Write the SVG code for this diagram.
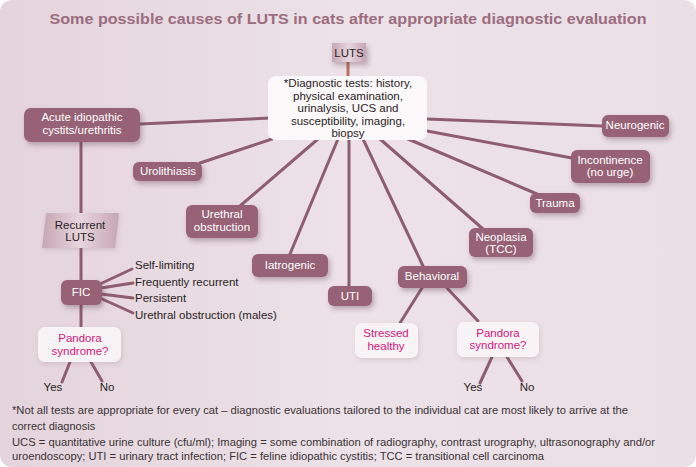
<svg xmlns="http://www.w3.org/2000/svg" width="696" height="467" viewBox="0 0 696 467">
<defs>
<linearGradient id="bg" x1="0" y1="0" x2="1" y2="0">
<stop offset="0" stop-color="#e4d4db"/>
<stop offset="0.5" stop-color="#ece2e7"/>
<stop offset="1" stop-color="#eadfe4"/>
</linearGradient>
<linearGradient id="light" x1="0" y1="0" x2="1" y2="0">
<stop offset="0" stop-color="#c7a6b4"/>
<stop offset="0.5" stop-color="#e6d6dd"/>
<stop offset="1" stop-color="#c7a6b4"/>
</linearGradient>
<filter id="sh" x="-30%" y="-30%" width="160%" height="170%">
<feDropShadow dx="2" dy="3" stdDeviation="2.5" flood-color="#5a3444" flood-opacity="0.35"/>
</filter>
<filter id="sh2" x="-30%" y="-30%" width="160%" height="170%">
<feDropShadow dx="1" dy="2" stdDeviation="2" flood-color="#7a5464" flood-opacity="0.18"/>
</filter>
</defs>
<style>
text{font-family:"Liberation Sans",Arial,sans-serif}
.node rect{fill:#976276;filter:url(#sh)}
.node text{fill:#ffffff;font-size:11.5px;text-anchor:middle}
.pale rect{fill:#f8f3f5;filter:url(#sh2)}
.pale text{fill:#d0187c;font-size:11.5px;text-anchor:middle}
.dark{fill:#2b2326;font-size:11.5px}
.c line{stroke:#8e5d71;stroke-width:3;stroke-linecap:round}
.foot{fill:#3a3336;font-size:11px}
</style>
<rect x="0" y="0" width="696" height="467" rx="12" fill="url(#bg)"/>
<text x="348" y="24" text-anchor="middle" font-size="15" font-weight="bold" fill="#9c6d80" textLength="597" lengthAdjust="spacingAndGlyphs">Some possible causes of LUTS in cats after appropriate diagnostic evaluation</text>

<g id="connectors" class="c">
<line x1="348" y1="62" x2="348" y2="77" style="stroke:#b87060"/>
<line x1="140" y1="124" x2="270" y2="118"/>
<line x1="81" y1="142" x2="81" y2="213"/>
<line x1="81" y1="248" x2="81" y2="280"/>
<line x1="81" y1="305" x2="81" y2="327"/>
<line x1="200" y1="163" x2="272" y2="139"/>
<line x1="240" y1="206" x2="318" y2="139"/>
<line x1="290" y1="254" x2="338" y2="139"/>
<line x1="349" y1="139" x2="349" y2="286"/>
<line x1="423" y1="266" x2="363" y2="139"/>
<line x1="483" y1="229" x2="380" y2="139"/>
<line x1="537" y1="194" x2="408" y2="139"/>
<line x1="572" y1="158" x2="427" y2="131"/>
<line x1="602" y1="126" x2="427" y2="119"/>
<line x1="100" y1="284" x2="132" y2="269"/>
<line x1="101" y1="288" x2="133" y2="283"/>
<line x1="101" y1="294" x2="133" y2="298"/>
<line x1="100" y1="298" x2="133" y2="313"/>
<line x1="70" y1="362" x2="62" y2="382"/>
<line x1="91" y1="362" x2="102" y2="381"/>
<line x1="422" y1="288" x2="400" y2="323"/>
<line x1="447" y1="288" x2="478" y2="321"/>
<line x1="492" y1="357" x2="480" y2="383"/>
<line x1="507" y1="357" x2="522" y2="381"/>
</g>

<g id="luts">
<rect x="332" y="43" width="34" height="19" fill="url(#light)" filter="url(#sh)"/>
<text x="349" y="57" text-anchor="middle" font-size="11.5" fill="#2b2326">LUTS</text>
</g>
<g id="tests">
<rect x="268" y="76" width="159" height="64" rx="8" fill="#fbf8f9"/>
<text x="348" y="87" text-anchor="middle" font-size="11.5" fill="#2b2326">*Diagnostic tests: history,</text>
<text x="348" y="99.5" text-anchor="middle" font-size="11.5" fill="#2b2326">physical examination,</text>
<text x="348" y="112" text-anchor="middle" font-size="11.5" fill="#2b2326">urinalysis, UCS and</text>
<text x="348" y="124.5" text-anchor="middle" font-size="11.5" fill="#2b2326">susceptibility, imaging,</text>
<text x="348" y="137" text-anchor="middle" font-size="11.5" fill="#2b2326">biopsy</text>
</g>
<g id="acute" class="node"><rect x="24" y="108" width="116" height="34" rx="7"/><text x="82" y="121">Acute idiopathic</text><text x="82" y="134">cystits/urethritis</text></g>
<g id="urolithiasis" class="node"><rect x="133" y="162" width="69" height="19" rx="6"/><text x="168" y="175">Urolithiasis</text></g>
<g id="urethral" class="node"><rect x="186" y="205" width="72" height="33" rx="6"/><text x="222" y="218">Urethral</text><text x="222" y="231">obstruction</text></g>
<g id="iatrogenic" class="node"><rect x="252" y="254" width="76" height="23" rx="6"/><text x="290" y="269">Iatrogenic</text></g>
<g id="uti" class="node"><rect x="328" y="286" width="44" height="20" rx="6"/><text x="350" y="300">UTI</text></g>
<g id="behavioral" class="node"><rect x="398" y="266" width="69" height="22" rx="6"/><text x="432" y="280">Behavioral</text></g>
<g id="neoplasia" class="node"><rect x="469" y="228" width="64" height="29" rx="6"/><text x="501" y="241">Neoplasia</text><text x="501" y="253">(TCC)</text></g>
<g id="trauma" class="node"><rect x="530" y="193" width="50" height="20" rx="6"/><text x="555" y="207">Trauma</text></g>
<g id="incontinence" class="node"><rect x="571" y="150" width="79" height="33" rx="6"/><text x="610" y="164">Incontinence</text><text x="610" y="176">(no urge)</text></g>
<g id="neurogenic" class="node"><rect x="602" y="115" width="67" height="22" rx="6"/><text x="635" y="129">Neurogenic</text></g>
<g id="recurrent">
<polygon points="46,213 119,213 115,248 42,248" fill="url(#light)" filter="url(#sh2)"/>
<text x="80" y="229" text-anchor="middle" font-size="11.5" fill="#2b2326">Recurrent</text>
<text x="80" y="241" text-anchor="middle" font-size="11.5" fill="#2b2326">LUTS</text>
</g>
<g id="fic" class="node"><rect x="61" y="280" width="41" height="25" rx="6"/><text x="81" y="296">FIC</text></g>
<g id="fic-outcomes">
<text class="dark" x="135" y="269">Self-limiting</text>
<text class="dark" x="135" y="286">Frequently recurrent</text>
<text class="dark" x="135" y="302">Persistent</text>
<text class="dark" x="135" y="319">Urethral obstruction (males)</text>
</g>
<g id="pandora1" class="pale"><rect x="38" y="327" width="83" height="35" rx="7"/><text x="80" y="342">Pandora</text><text x="80" y="355">syndrome?</text></g>
<g id="yesno1">
<text class="dark" x="53" y="391" text-anchor="middle">Yes</text>
<text class="dark" x="107" y="391" text-anchor="middle">No</text>
</g>
<g id="stressed" class="pale"><rect x="355" y="323" width="63" height="35" rx="7"/><text x="386" y="337">Stressed</text><text x="386" y="350">healthy</text></g>
<g id="pandora2" class="pale"><rect x="457" y="322" width="82" height="35" rx="7"/><text x="498" y="337">Pandora</text><text x="498" y="349">syndrome?</text></g>
<g id="yesno2">
<text class="dark" x="473" y="391" text-anchor="middle">Yes</text>
<text class="dark" x="527" y="391" text-anchor="middle">No</text>
</g>
<g id="footnotes">
<text class="foot" x="12" y="414" textLength="616" lengthAdjust="spacingAndGlyphs">*Not all tests are appropriate for every cat – diagnostic evaluations tailored to the individual cat are most likely to arrive at the</text>
<text class="foot" x="12" y="430">correct diagnosis</text>
<text class="foot" x="12" y="446" textLength="643" lengthAdjust="spacingAndGlyphs">UCS = quantitative urine culture (cfu/ml); Imaging = some combination of radiography, contrast urography, ultrasonography and/or</text>
<text class="foot" x="12" y="460" textLength="532" lengthAdjust="spacingAndGlyphs">uroendoscopy; UTI = urinary tract infection; FIC = feline idiopathic cystitis; TCC = transitional cell carcinoma</text>
</g>
</svg>
